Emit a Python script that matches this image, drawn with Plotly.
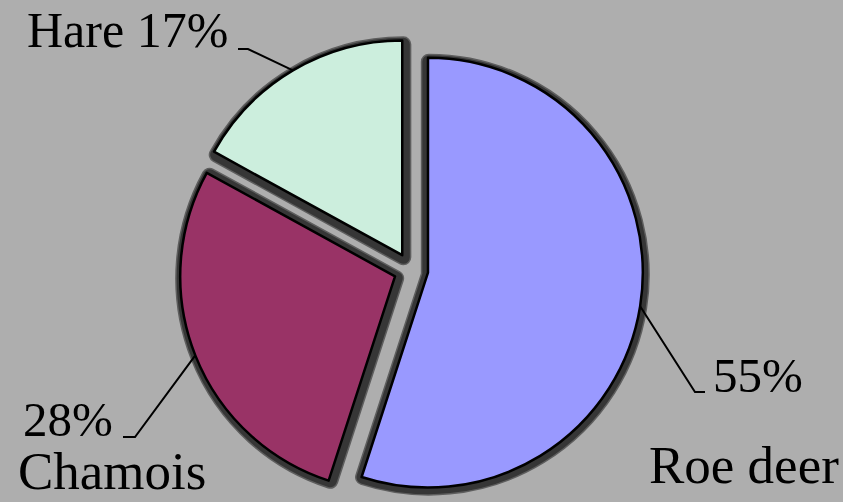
import math
import plotly.graph_objects as go

# ---- data ----
categories = ["Roe deer", "Chamois", "Hare"]
values = [55, 28, 17]
slice_colors = ["#9999FF", "#993366", "#CCEEDD"]

# ---- layout constants ----
W, H = 843, 502
BG = "#AEAEAE"
FONT = "Liberation Serif"
PULL = 0.08
CX, CY = 411, 270     # pie centre (px)
HALF = 232            # half size of pie box (px)


def dom(cx, cy, half):
    return dict(x=[max(0, (cx - half) / W), min(1, (cx + half) / W)],
                y=[max(0, 1 - (cy + half) / H), min(1, 1 - (cy - half) / H)])


def P(x, y):
    return x / W, 1 - y / H


fig = go.Figure()


def pie(colors, line_color, width, domain):
    return go.Pie(labels=categories, values=values, sort=False, direction="clockwise",
                  rotation=0, pull=[PULL] * 3, textinfo="none", hoverinfo="skip",
                  marker=dict(colors=colors, line=dict(color=line_color, width=width)),
                  domain=domain, showlegend=False)


# shadow layers (soft outer + dark inner)
fig.add_trace(pie(["#5e5e5e"] * 3, "#5e5e5e", 16, dom(CX + 1, CY + 2, HALF - 2)))
fig.add_trace(pie(["#363636"] * 3, "#363636", 13, dom(CX + 1, CY + 2, HALF - 2)))
# main pie
fig.add_trace(pie(slice_colors, "black", 2.5, dom(CX, CY, HALF)))

# leader lines from slice mid-angles
total = sum(values)
elbows = {"Roe deer": ((695, 392), (705, 392)),
          "Chamois": ((135, 437), (123, 437)),
          "Hare": ((248, 49), (238, 49))}
cum = 0
shapes = []
for cat, v in zip(categories, values):
    mid = (cum + v / 2) / total * 2 * math.pi
    cum += v
    sx = CX + HALF * math.sin(mid)
    sy = CY - HALF * math.cos(mid)
    (ex, ey), (tx, ty) = elbows[cat]
    a, b, c = P(sx, sy), P(ex, ey), P(tx, ty)
    shapes.append(dict(type="path", xref="paper", yref="paper",
                       path=f"M{a[0]},{a[1]} L{b[0]},{b[1]} L{c[0]},{c[1]}",
                       line=dict(color="black", width=2)))

pct = {c: f"{v}%" for c, v in zip(categories, values)}
label_pos = [  # text, left x px, baseline y px, font size
    (f"Hare {pct['Hare']}", 26, 47, 50),
    (pct["Chamois"], 22, 436, 49),
    ("Chamois", 17, 488, 53),
    (pct["Roe deer"], 712, 392, 49),
    ("Roe deer", 648, 482, 53),
]
annotations = []
for txt, lx, by, fs in label_pos:
    x, y = P(lx, by - 0.33 * fs)
    annotations.append(dict(text=txt, x=x, y=y, xref="paper", yref="paper",
                            xanchor="left", yanchor="middle", showarrow=False,
                            font=dict(family=FONT, size=fs, color="black"), borderpad=0))

fig.update_layout(width=W, height=H, margin=dict(l=0, r=0, t=0, b=0),
                  paper_bgcolor=BG, plot_bgcolor=BG,
                  shapes=shapes, annotations=annotations)

fig.write_html("out.html")
